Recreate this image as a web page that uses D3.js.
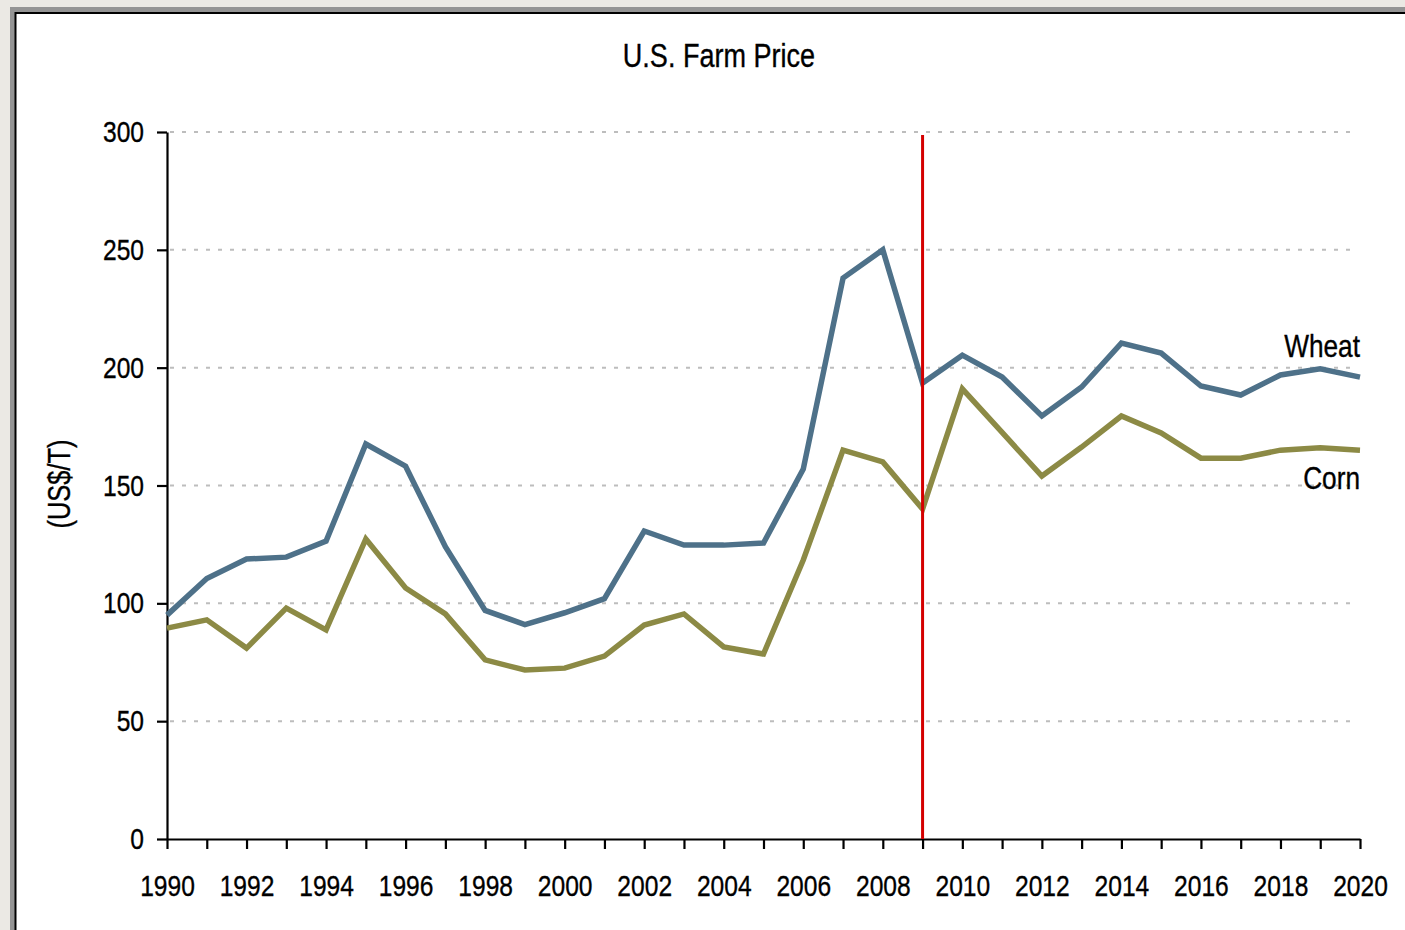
<!DOCTYPE html>
<meta charset="utf-8" />
<title>U.S. Farm Price</title>
<style>
  body {
    margin: 0;
    background: #ebe9e4;
  }
  svg text {
    font-family: "Liberation Sans", Arial, sans-serif;
    fill: #000;
    stroke: #000;
    stroke-width: 0.35px;
  }
  .grid line {
    stroke: #bdbdbd;
    stroke-width: 2px;
    stroke-dasharray: 4, 8;
  }
  .axis path,
  .axis line {
    stroke: #000;
    stroke-width: 2.2px;
  }
  .line {
    fill: none;
    stroke-width: 5.5px;
    stroke-linejoin: miter;
  }
</style>

<body>
  <script src="https://d3js.org/d3.v7.min.js"></script>
  <script>
    // data (US$/T)
    var years = d3.range(1990, 2021);
    var wheat = [
      95, 110.5, 118.8, 119.6, 126.4, 167.6, 158.2, 124, 97, 91, 96, 102,
      130.7, 124.7, 124.7, 125.6, 157, 238, 250, 193.5, 205.3, 196, 179.5,
      191.8, 210.4, 206.2, 192.2, 188.4, 196.9, 199.5, 196,
    ];
    var corn = [
      89.5, 93, 81, 98, 88.7, 127.3, 106.5, 95.5, 76, 71.7, 72.5, 77.6, 90.8,
      95.5, 81.5, 78.5, 118.4, 165, 160, 140, 191, 172.5, 154, 166.3, 179.5,
      172.3, 161.6, 161.6, 165, 166, 165,
    ];
    var yTicks = [0, 50, 100, 150, 200, 250, 300];
    var xTicks = d3.range(1990, 2021, 2);
    var markYear = 2009;

    var width = 1405,
      height = 930,
      margin = { top: 132, right: 45, bottom: 91, left: 167 };

    // narrow font look: squeeze text horizontally
    var squeeze = 0.82;
    function narrow(sel) {
      sel.each(function () {
        var t = d3.select(this);
        var x0 = +t.attr("x") || 0;
        var tr = t.attr("transform") || "";
        t.attr("x", x0 / squeeze).attr("transform", tr + " scale(" + squeeze + ",1)");
      });
    }

    var svg = d3
      .select("body")
      .append("svg")
      .attr("width", width)
      .attr("height", height)
      .style("display", "block");

    // frame
    svg
      .append("rect")
      .attr("x", 12.5)
      .attr("y", 9.5)
      .attr("width", width + 20)
      .attr("height", height + 20)
      .attr("fill", "#fff")
      .attr("stroke", "#949494")
      .attr("stroke-width", 5);
    svg
      .append("rect")
      .attr("x", 15.5)
      .attr("y", 13)
      .attr("width", width + 20)
      .attr("height", height + 20)
      .attr("fill", "none")
      .attr("stroke", "#000")
      .attr("stroke-width", 2);

    var x = d3
      .scaleLinear()
      .domain([1990, 2020])
      .range([margin.left, width - margin.right]);

    var y = d3
      .scaleLinear()
      .domain([0, 300])
      .range([height - margin.bottom, margin.top]);

    // title
    svg
      .append("text")
      .attr("x", 719)
      .attr("y", 67)
      .attr("text-anchor", "middle")
      .style("font-size", "33px")
      .text("U.S. Farm Price")
      .call(narrow);

    // y axis label
    svg
      .append("text")
      .attr("transform", "translate(70,484) rotate(-90)")
      .attr("text-anchor", "middle")
      .style("font-size", "31px")
      .text("(US$/T)")
      .call(narrow);

    // gridlines
    svg
      .append("g")
      .attr("class", "grid")
      .selectAll("line")
      .data(yTicks.filter(function (d) {
        return d > 0;
      }))
      .enter()
      .append("line")
      .attr("x1", margin.left + 3)
      .attr("x2", width - margin.right - 3)
      .attr("y1", function (d) {
        return y(d);
      })
      .attr("y2", function (d) {
        return y(d);
      });

    // axes
    var yAxis = svg
      .append("g")
      .attr("class", "axis")
      .attr("transform", "translate(" + margin.left + ",0)")
      .call(d3.axisLeft(y).tickValues(yTicks).tickSize(10).tickSizeOuter(0).tickPadding(13));

    var xAxis = svg
      .append("g")
      .attr("class", "axis")
      .attr("transform", "translate(0," + (height - margin.bottom) + ")")
      .call(
        d3
          .axisBottom(x)
          .tickValues(years)
          .tickSize(10)
          .tickSizeOuter(0)
          .tickPadding(26)
          .tickFormat(function (d) {
            return xTicks.indexOf(d) >= 0 ? d : "";
          })
      );

    svg
      .selectAll(".axis text")
      .style("font-size", "30px")
      .attr("font-family", null)
      .call(narrow);

    // series lines
    var line = d3
      .line()
      .x(function (d, i) {
        return x(years[i]);
      })
      .y(function (d) {
        return y(d);
      });

    svg
      .append("path")
      .attr("class", "line")
      .attr("stroke", "#8c8a45")
      .attr("d", line(corn));

    svg
      .append("path")
      .attr("class", "line")
      .attr("stroke", "#4e7189")
      .attr("d", line(wheat));

    // marker line
    svg
      .append("line")
      .attr("x1", x(markYear))
      .attr("x2", x(markYear))
      .attr("y1", 135)
      .attr("y2", y(0))
      .attr("stroke", "#d40000")
      .attr("stroke-width", 3);

    // series labels
    svg
      .append("text")
      .attr("x", x(2020))
      .attr("y", 357)
      .attr("text-anchor", "end")
      .style("font-size", "32px")
      .text("Wheat")
      .call(narrow);

    svg
      .append("text")
      .attr("x", x(2020))
      .attr("y", 489)
      .attr("text-anchor", "end")
      .style("font-size", "32px")
      .text("Corn")
      .call(narrow);
  </script>
</body>
